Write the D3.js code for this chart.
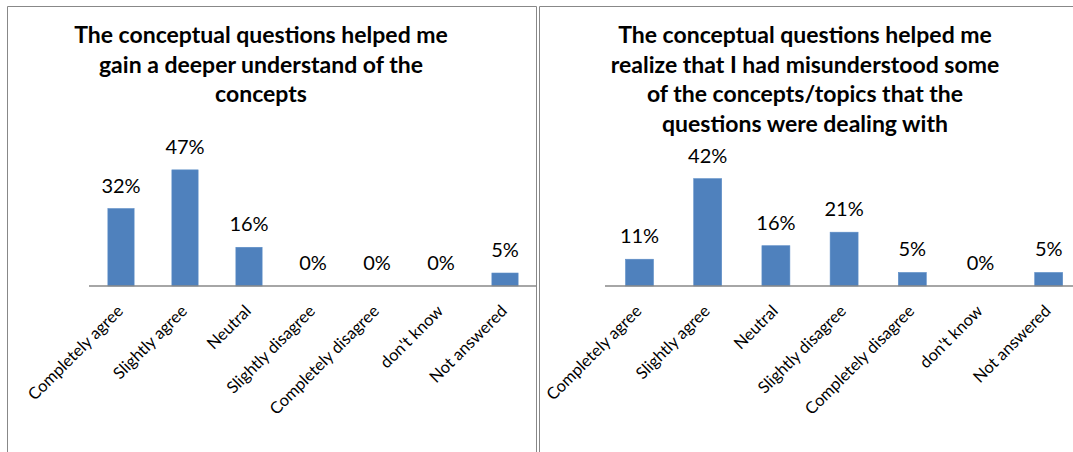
<!DOCTYPE html>
<html>
<head>
<meta charset="utf-8">
<script src="https://cdn.jsdelivr.net/npm/d3@7"></script>
<style>
  html, body { margin: 0; padding: 0; background: #fff; }
  svg { display: block; }
</style>
</head>
<body>
<svg id="chart" width="1073" height="452"></svg>
<script>
// ---- data ----
const categories = ["Completely agree", "Slightly agree", "Neutral", "Slightly disagree", "Completely disagree", "don't know", "Not answered"];
const valuesDeeper = [0.316, 0.474, 0.158, 0, 0, 0, 0.053];
const valuesRealize = [0.105, 0.421, 0.158, 0.211, 0.053, 0, 0.053];
const titleDeeper = ["The conceptual questions helped me", "gain a deeper understand of the", "concepts"];
const titleRealize = ["The conceptual questions helped me", "realize that I had misunderstood some", "of the concepts/topics that the", "questions were dealing with"];

const svg = d3.select("#chart");
const FONT = "Lato, 'Open Sans', sans-serif";
const pct = d3.format(".0%");

function drawPanel(cfg) {
  const g = svg.append("g");
  g.append("path")
    .attr("d", cfg.border)
    .attr("fill", "none").attr("stroke", "#888").attr("stroke-width", 1);

  const t = g.append("text")
    .attr("text-anchor", "middle")
    .attr("font-family", FONT).attr("font-weight", "bold")
    .attr("font-size", cfg.titleSize).attr("fill", "#000");
  cfg.title.forEach((line, i) => {
    t.append("tspan").attr("x", cfg.titleX).attr("y", cfg.titleY + i * cfg.titleLH).text(line);
  });

  const x = d3.scaleBand().domain(categories).range(cfg.xRange).paddingInner(0.59).paddingOuter(0.295);
  const y = d3.scaleLinear().domain([0, 0.5]).range([cfg.base, cfg.base - cfg.h50]);

  g.selectAll("rect.bar").data(cfg.values).join("rect")
    .attr("class", "bar")
    .attr("x", (d, i) => x(categories[i]))
    .attr("width", x.bandwidth())
    .attr("y", d => y(d))
    .attr("height", d => y(0) - y(d))
    .attr("fill", "#4F81BD")
    .attr("stroke", "#5B8CC6").attr("stroke-width", 0.6);

  g.selectAll("text.val").data(cfg.values).join("text")
    .attr("class", "val")
    .attr("x", (d, i) => x(categories[i]) + x.bandwidth() / 2)
    .attr("y", d => y(d) - 16)
    .attr("text-anchor", "middle")
    .attr("font-family", FONT).attr("font-size", 20).attr("fill", "#000")
    .text(d => pct(d));

  const axis = d3.axisBottom(x).tickSize(0).tickPadding(0);
  const ag = g.append("g").attr("transform", `translate(0,${cfg.base})`).call(axis);
  ag.select(".domain").attr("d", `M${cfg.axisStart},0H${cfg.axisEnd}`)
    .attr("stroke", "#898989").attr("stroke-width", 1.6);
  ag.selectAll(".tick text")
    .attr("font-family", FONT).attr("font-size", 16.5).attr("fill", "#000")
    .attr("text-anchor", "end")
    .attr("dy", "0.35em")
    .attr("transform", "translate(-1,22) rotate(-45)");
}

drawPanel({
  border: "M7.5,452V6.5H536.5V452",
  title: titleDeeper, titleX: 261, titleY: 43, titleLH: 29.5, titleSize: 23,
  values: valuesDeeper,
  xRange: [89, 537], base: 286, h50: 122.5,
  axisStart: 89, axisEnd: 536
});

drawPanel({
  border: "M539.5,452V6.5H1073",
  title: titleRealize, titleX: 805, titleY: 43, titleLH: 29.6, titleSize: 23,
  values: valuesRealize,
  xRange: [605.4, 1082.8], base: 286, h50: 127.5,
  axisStart: 605, axisEnd: 1073
});
</script>
</body>
</html>
